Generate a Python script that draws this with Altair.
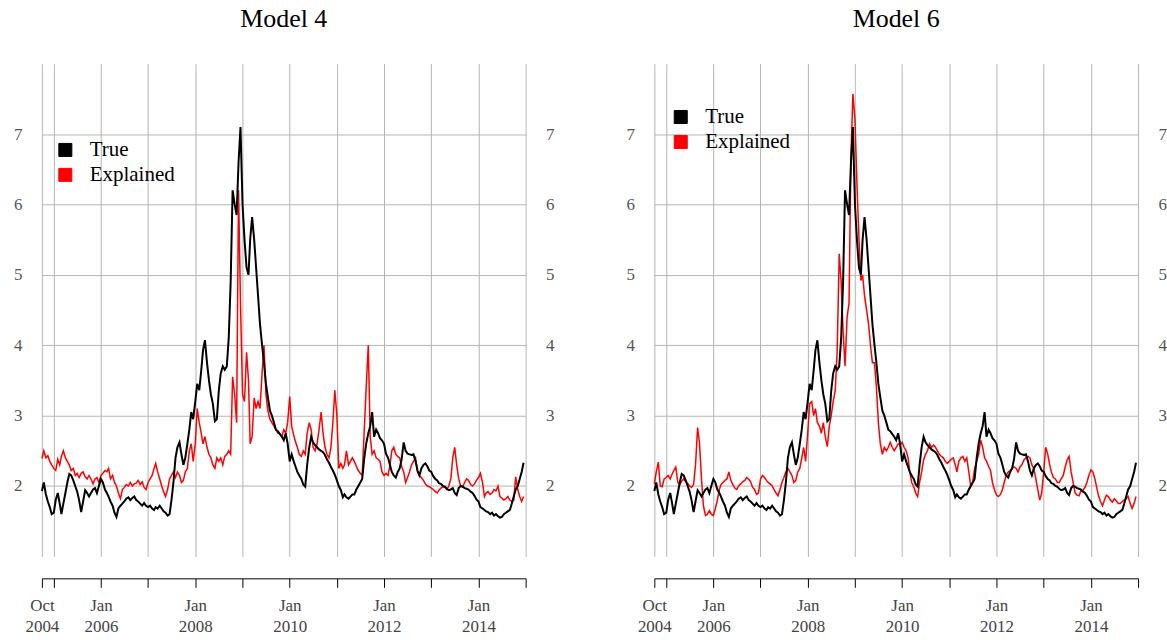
import altair as alt
import pandas as pd

FONT = "Liberation Serif"

# ---- semi-monthly observation dates (1st and 16th of each month), Oct 2004 .. Dec 2014
dates = []
for yr in range(2004, 2015):
    for mo in range(1, 13):
        if yr == 2004 and mo < 10:
            continue
        for dy in (1, 16):
            dates.append(pd.Timestamp(yr, mo, dy))

# ---- True series (black)
true_2004 = [1.93, 2.05, 1.88, 1.78, 1.70, 1.60]
true_2005 = [1.62, 1.80, 1.90, 1.75, 1.60, 1.75, 1.90, 2.05, 2.17, 2.15, 2.08, 2.00,
             1.92, 1.80, 1.63, 1.78, 1.94, 1.90, 1.85, 1.90, 1.95, 1.97, 1.90, 2.00]
true_2006 = [2.10, 2.05, 1.95, 1.90, 1.85, 1.78, 1.72, 1.62, 1.56, 1.68, 1.72, 1.75,
             1.78, 1.82, 1.84, 1.80, 1.83, 1.85, 1.80, 1.78, 1.75, 1.72, 1.76, 1.72]
true_2007 = [1.70, 1.72, 1.68, 1.66, 1.70, 1.68, 1.72, 1.68, 1.64, 1.62, 1.58, 1.60,
             1.80, 2.05, 2.40, 2.55, 2.62, 2.45, 2.30, 2.40, 2.60, 2.80, 3.05, 2.95]
true_2008 = [3.20, 3.45, 3.36, 3.64, 3.93, 4.07, 3.75, 3.50, 3.30, 3.17, 2.92, 2.95,
             3.35, 3.60, 3.70, 3.65, 3.70, 4.10, 4.90, 6.20, 6.00, 5.85, 6.60, 7.10]
true_2009 = [6.00, 5.50, 5.10, 5.00, 5.50, 5.82, 5.50, 5.10, 4.70, 4.30, 4.00, 3.75,
             3.45, 3.26, 3.07, 3.00, 2.90, 2.80, 2.78, 2.74, 2.70, 2.65, 2.75, 2.60]
true_2010 = [2.35, 2.45, 2.35, 2.27, 2.20, 2.15, 2.10, 2.02, 1.99, 2.30, 2.55, 2.70,
             2.62, 2.58, 2.55, 2.52, 2.50, 2.48, 2.44, 2.38, 2.33, 2.27, 2.22, 2.16]
true_2011 = [2.08, 2.00, 1.94, 1.84, 1.88, 1.84, 1.82, 1.85, 1.88, 1.88, 1.95, 2.00,
             2.05, 2.10, 2.40, 2.60, 2.75, 2.85, 3.05, 2.70, 2.80, 2.75, 2.68, 2.65]
true_2012 = [2.60, 2.46, 2.40, 2.30, 2.20, 2.15, 2.12, 2.20, 2.25, 2.38, 2.62, 2.50,
             2.46, 2.45, 2.44, 2.45, 2.35, 2.22, 2.15, 2.25, 2.30, 2.32, 2.28, 2.22]
true_2013 = [2.20, 2.14, 2.10, 2.08, 2.04, 2.03, 2.00, 1.99, 1.96, 1.94, 1.95, 1.97,
             1.90, 1.87, 1.97, 2.00, 1.99, 1.97, 1.96, 1.95, 1.92, 1.90, 1.86, 1.81]
true_2014 = [1.78, 1.70, 1.68, 1.66, 1.64, 1.63, 1.60, 1.62, 1.58, 1.60, 1.57, 1.55,
             1.56, 1.60, 1.62, 1.64, 1.66, 1.75, 1.85, 1.95, 2.00, 2.10, 2.20, 2.33]

# ---- Explained series, Model 4 (red)
m4_2004 = [2.39, 2.50, 2.40, 2.43, 2.35, 2.30]
m4_2005 = [2.25, 2.22, 2.38, 2.30, 2.42, 2.50, 2.40, 2.35, 2.30, 2.22, 2.25, 2.15,
           2.18, 2.12, 2.18, 2.20, 2.13, 2.10, 2.15, 2.10, 2.03, 2.10, 2.12, 2.05]
m4_2006 = [2.15, 2.18, 2.22, 2.20, 2.25, 2.10, 2.15, 2.05, 2.00, 1.90, 1.82, 1.95,
           1.98, 2.02, 2.00, 2.05, 2.00, 2.03, 2.04, 2.08, 2.02, 2.06, 1.98, 1.95]
m4_2007 = [2.05, 2.10, 2.15, 2.25, 2.32, 2.20, 2.10, 2.00, 1.92, 1.85, 1.95, 2.10,
           2.15, 2.20, 2.12, 2.20, 2.15, 2.05, 2.08, 2.20, 2.25, 2.50, 2.60, 2.35]
m4_2008 = [2.60, 3.10, 2.90, 2.75, 2.60, 2.70, 2.55, 2.45, 2.40, 2.30, 2.25, 2.40,
           2.35, 2.40, 2.30, 2.42, 2.45, 2.50, 2.45, 3.55, 3.30, 2.90, 6.20, 4.60]
m4_2009 = [3.30, 3.20, 3.90, 3.50, 2.60, 2.70, 3.25, 3.10, 3.20, 3.10, 3.60, 4.00,
           3.30, 3.07, 2.95, 2.90, 2.85, 2.80, 2.75, 2.74, 2.70, 2.80, 2.75, 2.90]
m4_2010 = [3.27, 2.85, 2.72, 2.62, 2.55, 2.45, 2.42, 2.50, 2.45, 2.75, 2.90, 2.80,
           2.55, 2.50, 2.60, 2.80, 3.05, 2.75, 2.55, 2.45, 2.40, 2.55, 2.90, 3.36]
m4_2011 = [3.00, 2.25, 2.32, 2.25, 2.30, 2.50, 2.30, 2.35, 2.40, 2.35, 2.28, 2.22,
           2.18, 2.15, 2.80, 3.40, 4.00, 2.70, 2.45, 2.50, 2.40, 2.38, 2.35, 2.20]
m4_2012 = [2.15, 2.18, 2.15, 2.30, 2.50, 2.55, 2.45, 2.42, 2.40, 2.28, 2.20, 2.05,
           2.12, 2.20, 2.30, 2.35, 2.40, 2.20, 2.15, 2.12, 2.08, 2.03, 2.00, 1.99]
m4_2013 = [1.97, 1.95, 1.92, 1.90, 1.94, 1.97, 1.99, 1.98, 1.95, 2.00, 2.10, 2.40,
           2.55, 2.30, 2.10, 2.00, 1.99, 2.05, 2.10, 2.08, 2.02, 2.00, 2.03, 2.08]
m4_2014 = [2.12, 2.18, 2.05, 1.85, 1.90, 1.92, 1.88, 1.90, 1.95, 1.93, 2.00, 1.85,
           1.83, 1.80, 1.82, 1.85, 1.80, 1.78, 1.80, 2.13, 1.95, 1.85, 1.78, 1.85]

# ---- Explained series, Model 6 (red)
m6_2004 = [2.03, 2.20, 2.34, 2.00, 1.99, 2.10]
m6_2005 = [2.12, 2.15, 2.10, 2.17, 2.22, 2.27, 2.05, 2.02, 2.07, 2.10, 2.06, 2.04,
           2.00, 1.98, 2.02, 2.30, 2.83, 2.60, 2.10, 1.72, 1.58, 1.60, 1.65, 1.60]
m6_2006 = [1.58, 1.68, 1.80, 1.95, 2.02, 2.05, 2.08, 2.10, 2.20, 2.08, 2.02, 1.97,
           1.95, 2.00, 2.03, 2.06, 2.08, 2.12, 2.10, 2.06, 1.98, 1.95, 1.88, 1.90]
m6_2007 = [2.10, 2.15, 2.12, 2.08, 2.05, 2.03, 2.00, 1.95, 1.90, 1.86, 1.95, 2.05,
           2.12, 2.20, 2.25, 2.20, 2.15, 2.05, 2.08, 2.20, 2.25, 2.40, 2.55, 2.35]
m6_2008 = [2.75, 3.17, 3.20, 3.00, 3.10, 2.90, 2.85, 2.75, 2.90, 2.70, 2.56, 2.85,
           3.00, 3.20, 3.35, 3.90, 5.30, 4.90, 4.20, 3.70, 4.40, 4.60, 6.70, 7.57]
m6_2009 = [7.20, 6.30, 5.50, 4.92, 5.00, 4.70, 4.50, 4.30, 4.00, 3.75, 3.75, 3.40,
           2.90, 2.60, 2.45, 2.55, 2.50, 2.55, 2.62, 2.55, 2.50, 2.55, 2.60, 2.58]
m6_2010 = [2.62, 2.55, 2.50, 2.40, 2.20, 2.05, 1.99, 1.90, 1.85, 2.05, 2.20, 2.37,
           2.45, 2.50, 2.60, 2.55, 2.58, 2.55, 2.50, 2.45, 2.42, 2.40, 2.35, 2.32]
m6_2011 = [2.35, 2.38, 2.40, 2.30, 2.20, 2.35, 2.40, 2.42, 2.35, 2.40, 2.20, 1.99,
           2.05, 2.25, 2.35, 2.45, 2.65, 2.55, 2.40, 2.35, 2.28, 2.22, 2.05, 1.95]
m6_2012 = [1.87, 1.85, 1.88, 1.95, 2.05, 2.15, 2.20, 2.22, 2.25, 2.27, 2.25, 2.20,
           2.27, 2.30, 2.37, 2.40, 2.42, 2.40, 2.30, 2.25, 2.10, 1.95, 1.80, 1.90]
m6_2013 = [2.20, 2.55, 2.45, 2.30, 2.20, 2.12, 2.10, 2.05, 2.05, 2.10, 2.15, 2.27,
           2.37, 2.42, 2.20, 2.05, 1.90, 1.87, 1.86, 1.93, 1.94, 1.98, 2.05, 2.15]
m6_2014 = [2.23, 2.20, 2.10, 1.97, 1.86, 1.78, 1.72, 1.80, 1.87, 1.85, 1.80, 1.77,
           1.82, 1.79, 1.75, 1.75, 1.78, 1.80, 1.82, 1.85, 1.75, 1.68, 1.75, 1.85]

true_vals = (true_2004 + true_2005 + true_2006 + true_2007 + true_2008 + true_2009
             + true_2010 + true_2011 + true_2012 + true_2013 + true_2014)
m4_vals = (m4_2004 + m4_2005 + m4_2006 + m4_2007 + m4_2008 + m4_2009
           + m4_2010 + m4_2011 + m4_2012 + m4_2013 + m4_2014)
m6_vals = (m6_2004 + m6_2005 + m6_2006 + m6_2007 + m6_2008 + m6_2009
           + m6_2010 + m6_2011 + m6_2012 + m6_2013 + m6_2014)

series_names = ["True", "Explained"]
series_colors = ["black", "red"]
y_ticks = [2, 3, 4, 5, 6, 7]
x_tick_dates = [alt.DateTime(year=2004, month=10, date=1)] + [
    alt.DateTime(year=y, month=1, date=1) for y in range(2005, 2016)]


def make_df(explained):
    rows = []
    for d, v in zip(dates, explained):
        rows.append({"date": d, "value": v, "series": "Explained"})
    for d, v in zip(dates, true_vals):
        rows.append({"date": d, "value": v, "series": "True"})
    return pd.DataFrame(rows)


cscale = alt.Scale(domain=series_names, range=series_colors)

x_axis = alt.Axis(
    values=x_tick_dates,
    labelExpr="(month(datum.value) == 9 || year(datum.value) % 2 == 0) ? "
              "[timeFormat(datum.value, '%b'), timeFormat(datum.value, '%Y')] : ''",
    offset=22, domainColor="black", domainWidth=1, tickColor="black", tickSize=9,
    tickWidth=1, grid=True, gridColor="#b5b5b5", gridWidth=1,
    labelFont=FONT, labelFontSize=17, labelColor="#444444", labelPadding=10,
    labelLineHeight=21.5, labelOverlap=False, labelFlush=False, title=None)

x_enc = alt.X("date:T", axis=x_axis,
              scale=alt.Scale(domain=[alt.DateTime(year=2004, month=10, date=1),
                                      alt.DateTime(year=2015, month=1, date=1)]))
y_scale = alt.Scale(domain=[1, 8], nice=False, zero=False)


def y_axis(orient, grid, extent):
    return alt.Axis(orient=orient, values=y_ticks, grid=grid, gridColor="#b5b5b5",
                    gridWidth=1, domain=False, ticks=False, labelPadding=20,
                    labelFont=FONT, labelFontSize=17, labelColor="#555555",
                    minExtent=extent, maxExtent=extent, title=None)


def panel(title, explained, lx, ly, right_extent):
    base = alt.Chart(make_df(explained))
    legend_layer = base.mark_square(filled=True, size=0, stroke="black",
                                    strokeWidth=1, opacity=1).encode(
        x=x_enc,
        y=alt.Y("value:Q", scale=y_scale, axis=None),
        color=alt.Color("series:N", scale=cscale, legend=alt.Legend(
            orient="none", legendX=lx, legendY=ly, title=None,
            symbolType="square", symbolSize=170, symbolStrokeColor="black",
            symbolStrokeWidth=1, symbolOpacity=1, labelFont=FONT, labelFontSize=21,
            labelColor="black", labelOffset=14, rowPadding=3, padding=0)),
    )
    red = base.transform_filter(alt.datum.series == "Explained").mark_line(
        strokeWidth=1.5).encode(
        x=x_enc,
        y=alt.Y("value:Q", scale=y_scale, axis=y_axis("right", False, right_extent)),
        color=alt.Color("series:N", scale=cscale, legend=None),
    )
    black = base.transform_filter(alt.datum.series == "True").mark_line(
        strokeWidth=2).encode(
        x=x_enc,
        y=alt.Y("value:Q", scale=y_scale, axis=y_axis("left", True, 42)),
        color=alt.Color("series:N", scale=cscale, legend=None),
    )
    return alt.layer(legend_layer, red, black).resolve_axis(y="independent").properties(
        width=485, height=494,
        title=alt.TitleParams(title, font=FONT, fontSize=26, fontWeight="normal",
                              color="black", offset=32, frame="group", anchor="middle"))


left = panel("Model 4", m4_vals, 13, 76, 40)
right = panel("Model 6", m6_vals, 16, 43, 26)

chart = alt.hconcat(left, right, spacing=47).resolve_legend(
    color="independent").configure(
    padding={"left": 0, "top": 5, "right": 0, "bottom": 0}).configure_view(stroke=None)

chart.save("out.html", embed_options={"renderer": "svg", "actions": False})
